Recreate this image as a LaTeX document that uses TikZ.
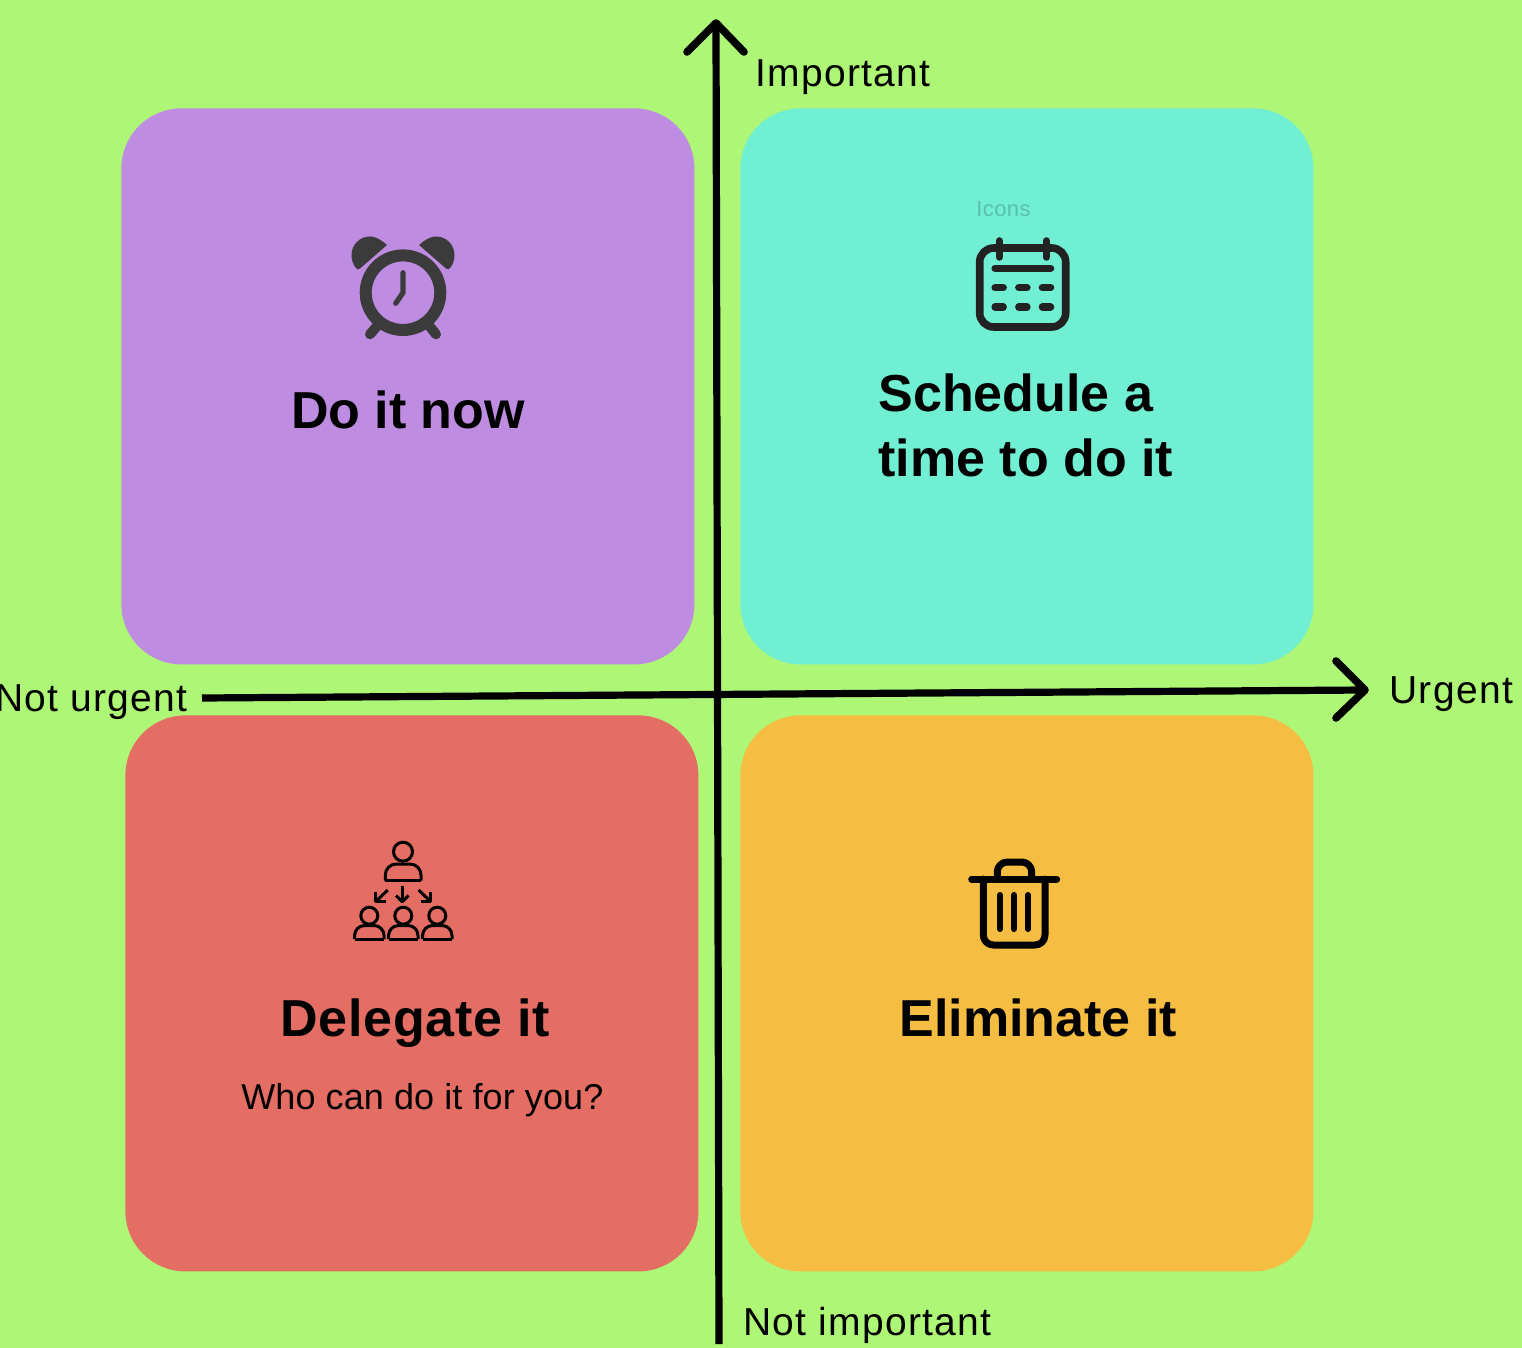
\documentclass[tikz,border=0pt]{standalone}
\usepackage{fontspec}
\setmainfont{Liberation Sans}
\definecolor{bgc}{HTML}{AEF675}
\definecolor{purp}{HTML}{BE8CE0}
\definecolor{teal2}{HTML}{70EFD3}
\definecolor{redq}{HTML}{E56E64}
\definecolor{orq}{HTML}{F5BE43}
\definecolor{clockc}{HTML}{3B3B3B}
\definecolor{calc}{HTML}{222222}
\definecolor{iconlbl}{HTML}{5BBFAA}
\tikzset{
 quad/.style={rounded corners=30pt,minimum width=286.5pt,minimum height=278pt,inner sep=0pt,draw=none,anchor=north west},
 big/.style={font=\fontsize{26}{30}\selectfont\bfseries,inner sep=0pt,text=black},
 lab/.style={font=\fontsize{19.5}{24}\selectfont\addfontfeature{LetterSpace=3.3},inner sep=0pt,text=black},
 axis/.style={line width=3.6pt,draw=black},
 head/.style={line width=3.8pt,draw=black,line cap=round,line join=round},
 clk/.style={draw=clockc,line cap=round,line join=round},
 cal/.style={draw=calc,line cap=round,line join=round},
 ppl/.style={draw=black,line width=1.5pt,line join=round},
 bin/.style={draw=black,line cap=round,line join=round},
}
\begin{document}
\begin{tikzpicture}[x=0.5pt,y=-0.5pt]
\useasboundingbox (0,0) rectangle (1522,1348);
\clip (0,0) rectangle (1522,1348);
\fill[bgc] (0,0) rectangle (1522,1348);
% quadrants
\node[quad,fill=purp] (q1) at (121,108) {};
\node[quad,fill=teal2] (q2) at (740,108) {};
\node[quad,fill=redq] (q3) at (125,715) {};
\node[quad,fill=orq] (q4) at (740,715) {};
% axes
\coordinate (vb) at (719,1344);
\coordinate (vt) at (716,23);
\coordinate (hl) at (202,698);
\coordinate (hr) at (1365,690);
\draw[axis] (vb) -- (vt);
\draw[axis] (hl) -- (hr);
\draw[head] (687,52) -- (vt) -- (744,52);
\draw[head] (1336,661) -- (hr) -- (1336,718);
% texts
\node[big,font=\fontsize{26}{30}\selectfont\bfseries\addfontfeature{LetterSpace=-0.2},anchor=base] (t1) at (408,429) {Do it now};
\node[big,anchor=base west] (t2a) at (878,412) {Schedule a};
\node[big,anchor=base west] (t2b) at (878,476) {time to do it};
\node[big,font=\fontsize{26}{30}\selectfont\bfseries\addfontfeature{LetterSpace=1.4},anchor=base west] (t3) at (280,1036) {Delegate it};
\node[big,anchor=base west] (t4) at (899,1036) {Eliminate it};
\node[lab,font=\fontsize{18}{22}\selectfont\addfontfeature{LetterSpace=0.3},anchor=base west] (t5) at (241,1109) {Who can do it for you?};
\node[lab,anchor=base west] (l1) at (755,87) {Important};
\node[lab,anchor=base west] (l2) at (1389,703) {Urgent};
\node[lab,anchor=base east] (l3) at (188,711) {Not urgent};
\node[lab,anchor=base west] (l4) at (743,1335) {Not important};
\node[inner sep=0pt,text=iconlbl,font=\fontsize{11}{13}\selectfont\addfontfeature{LetterSpace=2},anchor=base] (ic) at (1003.5,217) {Icons};
% clock
\draw[clk,line width=6pt] (403,292.7) circle (37.3);
\fill[clockc] (387,245) .. controls (380,239) and (375,236.5) .. (370,236.5) .. controls (359.5,236.5) and (351.5,245) .. (351.5,255) .. controls (351.5,260) and (353,264) .. (355.5,267.5) .. controls (356.5,269.5) and (358.5,270) .. (360,268.5) -- cycle;
\fill[clockc] (419,245) .. controls (426,239) and (431,236.5) .. (436,236.5) .. controls (446.5,236.5) and (454.5,245) .. (454.5,255) .. controls (454.5,260) and (453,264) .. (450.5,267.5) .. controls (449.5,269.5) and (447.5,270) .. (446,268.5) -- cycle;
\draw[clk,line width=2.6pt] (403,272.7) -- (403,292.7) -- (395.7,303.3);
\draw[clk,line width=5pt] (378,325) -- (370,334.3);
\draw[clk,line width=5pt] (428.7,325) -- (436,334.3);
% calendar
\draw[cal,line width=3.8pt,rounded corners=7pt] (979.7,248) rectangle (1065.7,327);
\draw[cal,line width=3.8pt] (999.3,241) -- (999.3,257);
\draw[cal,line width=3.8pt] (1046.3,241) -- (1046.3,257);
\draw[cal,line width=3.6pt] (995,268.3) -- (1050.7,268.3);
\foreach \yy in {287.7,307}{
 \draw[cal,line width=3.6pt] (995,\yy) -- (1003.3,\yy);
 \draw[cal,line width=3.6pt] (1018.7,\yy) -- (1027,\yy);
 \draw[cal,line width=3.6pt] (1042.3,\yy) -- (1050.7,\yy);
}
% people
\draw[ppl] (403,851.7) circle (9.5);
\draw[ppl,rounded corners=5.5pt] (385.3,880.7) -- (385.3,864) -- (421,864) -- (421,880.7);
\draw[ppl] (385.3,880.7) -- (421,880.7);
\draw[ppl] (387.7,890) -- (375.7,901.7);
\draw[ppl] (375.7,892) -- (375.7,901.7) -- (385.5,901.7);
\draw[ppl] (402.3,886) -- (402.3,901.7);
\draw[ppl] (396,895.5) -- (402.3,901.7) -- (408.6,895.5);
\draw[ppl] (418.7,890) -- (430.7,901.7);
\draw[ppl] (430.7,892) -- (430.7,901.7) -- (421,901.7);
\foreach \cx in {369.3,403.3,437.3}{
 \draw[ppl] (\cx,915.7) circle (8.5);
 \draw[ppl,rounded corners=5pt] (\cx-14.7,939) -- (\cx-14.7,925.5) -- (\cx+14.7,925.5) -- (\cx+14.7,939);
 \draw[ppl] (\cx-14.7,939) -- (\cx+14.7,939);
}
% trash
\draw[bin,line width=3.5pt] (971.7,879) -- (1056.7,879);
\draw[bin,line width=3.5pt,rounded corners=5pt] (997.3,879) -- (997.3,862) -- (1031.7,862) -- (1031.7,879);
\draw[bin,line width=3.5pt,rounded corners=5pt] (983.3,879) -- (983.3,945) -- (1045,945) -- (1045,879);
\draw[bin,line width=3pt] (1000,895) -- (1000,929);
\draw[bin,line width=3pt] (1014,895) -- (1014,929);
\draw[bin,line width=3pt] (1028,895) -- (1028,929);
\end{tikzpicture}
\end{document}
